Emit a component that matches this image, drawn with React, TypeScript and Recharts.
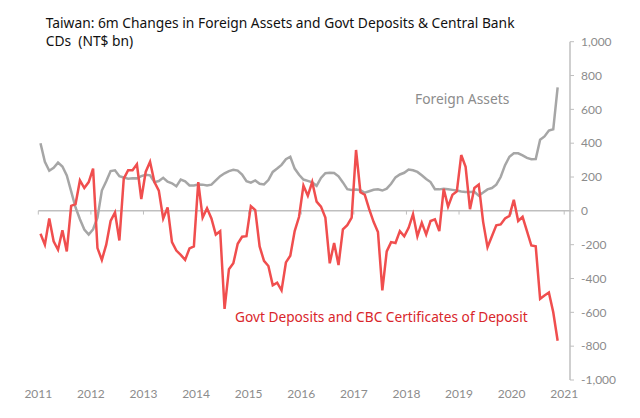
import React from 'react';
import { LineChart, Line, XAxis, YAxis, ReferenceLine } from 'recharts';

const START_YEAR = 2011;
const yearTicks = [2011, 2012, 2013, 2014, 2015, 2016, 2017, 2018, 2019, 2020, 2021];
const valueTicks = [-1000, -800, -600, -400, -200, 0, 200, 400, 600, 800, 1000];

// Monthly, Jan 2011 - Nov 2020 (NT$ bn, 6m change)
const foreignAssets = [
  400, 290, 237, 255, 285, 262, 210, 115, 20, -50, -110, -140,
  -109, -40, 120, 175, 235, 240, 205, 197, 190, 193, 192, 205,
  213, 210, 170, 176, 195, 172, 163, 145, 185, 175, 150, 150,
  156, 155, 150, 155, 180, 205, 222, 235, 243, 238, 215, 175,
  167, 180, 160, 156, 182, 230, 250, 272, 305, 320, 250, 213,
  185, 177, 168, 148, 195, 223, 225, 224, 204, 168, 128, 124,
  126, 122, 107, 116, 125, 127, 120, 131, 160, 198, 215, 225,
  244, 240, 230, 210, 188, 170, 128, 127, 130, 128, 124, 120,
  115, 111, 112, 113, 90, 108, 127, 135, 155, 200, 270, 320,
  340, 340, 328, 313, 305, 306, 420, 440, 475, 482, 730,
];

const govtDeposits = [
  -135, -200, -45, -180, -230, -115, -240, 30, 40, 180, 135, 170,
  250, -220, -290, -200, -60, -10, -175, 190, 240, 240, 275, 70,
  230, 290, 170, 120, -45, 20, -185, -235, -260, -290, -222, -210,
  170, -40, 15, -45, -140, -120, -580, -345, -310, -195, -153, -150,
  28, 5, -210, -296, -326, -440, -425, -470, -305, -265, -120, -35,
  150, 90, 170, 55, 25, -40, -310, -190, -320, -110, -85, -40,
  360, 110, 95, 10, -65, -125, -470, -240, -185, -190, -120, -150,
  -100, -20, -150, -70, -140, -60, -50, -120, 130, 25, 95, 115,
  330, 260, 10, 135, 155, -65, -215, -150, -85, -80, -45, -30,
  65, -60, -35, -120, -205, -210, -520, -500, -483, -600, -768,
];

const data = foreignAssets.map((fa, i) => ({
  t: START_YEAR + (i + 0.5) / 12,
  fa,
  gd: govtDeposits[i],
}));

const AXIS_GRAY = '#bfbfbf';
const LABEL_GRAY = '#8c8c8c';
const RED_LINE = '#f04e4e';
const GRAY_LINE = '#a6a6a6';

const fmt = (v: number) => v.toLocaleString('en-US');

export default function App() {
  return (
    <div style={{ position: 'absolute', left: 0, top: 0, width: 640, height: 418, background: '#fff' }}>
      <LineChart
        width={640}
        height={418}
        data={data}
        margin={{ top: 41.7, right: 0, bottom: 0, left: 38.3 }}
      >
        <XAxis
          type="number"
          dataKey="t"
          domain={[2011, 2021.11]}
          ticks={yearTicks}
          interval={0}
          axisLine={false}
          tickLine={false}
          tickSize={0}
          tickMargin={9}
          height={38}
          allowDataOverflow
          tick={{ fill: LABEL_GRAY, fontSize: 12, fontFamily: 'Lato' }}
        />
        <YAxis
          orientation="right"
          width={70}
          domain={[-1000, 1000]}
          ticks={valueTicks}
          interval={0}
          tickFormatter={fmt}
          axisLine={{ stroke: AXIS_GRAY, strokeWidth: 1.5 }}
          tickLine={{ stroke: AXIS_GRAY, strokeWidth: 1 }}
          tickSize={4}
          tickMargin={7}
          tick={{ fill: LABEL_GRAY, fontSize: 12, fontFamily: 'Lato' }}
        />
        <ReferenceLine y={0} stroke={AXIS_GRAY} strokeWidth={1.5} />
        {yearTicks.map((yr) => (
          <ReferenceLine
            key={yr}
            segment={[{ x: yr, y: 0 }, { x: yr, y: -22 }]}
            stroke={AXIS_GRAY}
            strokeWidth={1}
            ifOverflow="visible"
          />
        ))}
        <Line
          type="linear"
          dataKey="fa"
          stroke={GRAY_LINE}
          strokeWidth={2.5}
          dot={false}
          isAnimationActive={false}
        />
        <Line
          type="linear"
          dataKey="gd"
          stroke={RED_LINE}
          strokeWidth={2.5}
          dot={false}
          isAnimationActive={false}
        />
      </LineChart>
      <div
        style={{
          position: 'absolute',
          left: 45.7,
          top: 14.2,
          fontFamily: 'Noto Sans',
          fontSize: 13.8,
          lineHeight: '18px',
          color: '#111',
          whiteSpace: 'pre',
        }}
      >
        {'Taiwan: 6m Changes in Foreign Assets and Govt Deposits & Central Bank\nCDs  (NT$ bn)'}
      </div>
      <div
        style={{
          position: 'absolute',
          left: 415,
          top: 89.5,
          fontFamily: 'Noto Sans',
          fontSize: 13.8,
          lineHeight: '18px',
          color: '#8c8c8c',
          whiteSpace: 'pre',
        }}
      >
        Foreign Assets
      </div>
      <div
        style={{
          position: 'absolute',
          left: 235,
          top: 307.7,
          fontFamily: 'Noto Sans',
          fontSize: 13.7,
          lineHeight: '18px',
          color: '#d9262b',
          whiteSpace: 'pre',
        }}
      >
        Govt Deposits and CBC Certificates of Deposit
      </div>
    </div>
  );
}
